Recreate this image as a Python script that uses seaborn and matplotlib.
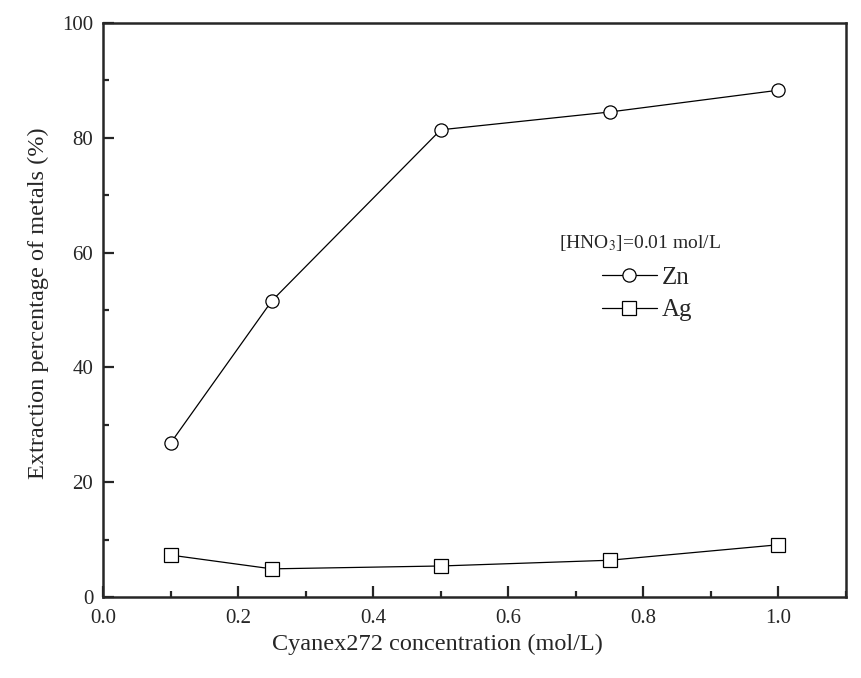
import pandas as pd
import matplotlib
matplotlib.use("Agg")
import matplotlib.pyplot as plt
from matplotlib.ticker import MultipleLocator, FormatStrFormatter
import seaborn as sns

# data
conc = [0.1, 0.25, 0.5, 0.75, 1.0]
zn = [26.8, 51.6, 81.4, 84.5, 88.3]
ag = [7.3, 4.9, 5.4, 6.4, 9.1]

df = pd.DataFrame({
    "conc": conc * 2,
    "ext": zn + ag,
    "metal": ["Zn"] * len(conc) + ["Ag"] * len(conc),
})

sns.set_theme(style="ticks")
plt.rcParams["font.family"] = ["Liberation Serif", "DejaVu Serif"]
plt.rcParams["mathtext.fontset"] = "stix"

fig = plt.figure(figsize=(8.61, 6.78), dpi=100)
ax = fig.add_axes([0.1196, 0.1195, 0.8630, 0.8465])

sns.lineplot(data=df, x="conc", y="ext", style="metal",
             markers={"Zn": "o", "Ag": "s"}, dashes=False, color="black",
             markerfacecolor="white", markeredgecolor="black",
             markersize=9.5, linewidth=0.9, markeredgewidth=0.9, ax=ax)

ax.set_xlim(0, 1.1)
ax.set_ylim(0, 100)
ax.xaxis.set_major_locator(MultipleLocator(0.2))
ax.xaxis.set_minor_locator(MultipleLocator(0.1))
ax.yaxis.set_major_locator(MultipleLocator(20))
ax.yaxis.set_minor_locator(MultipleLocator(10))
ax.xaxis.set_major_formatter(FormatStrFormatter("%.1f"))
ax.tick_params(which="major", direction="in", length=8, width=1.6,
               labelsize=15, top=False, right=False)
ax.tick_params(which="minor", direction="in", length=4.5, width=1.6,
               top=False, right=False)
ax.tick_params(axis="x", pad=9)
ax.tick_params(axis="y", pad=7)
for s in ax.spines.values():
    s.set_linewidth(1.8)
    s.set_visible(True)

ax.set_xlabel("Cyanex272 concentration (mol/L)", fontsize=17.5)
ax.set_ylabel("Extraction percentage of metals (%)", fontsize=17.5)
ax.xaxis.set_label_coords(0.4495, -0.064)
ax.yaxis.set_label_coords(-0.072, 0.512)

# legend title drawn as text so the gap to the entries matches
ax.text(0.723, 0.617, "[HNO$_3$]=0.01 mol/L", transform=ax.transAxes,
        ha="center", va="center", fontsize=14)
h, l = ax.get_legend_handles_labels()
leg = ax.legend(h, l, frameon=False, fontsize=18, loc="center",
                bbox_to_anchor=(0.732, 0.528), handlelength=2.2,
                handletextpad=0.2, labelspacing=0.4)

fig.savefig("out.png", dpi=100)
